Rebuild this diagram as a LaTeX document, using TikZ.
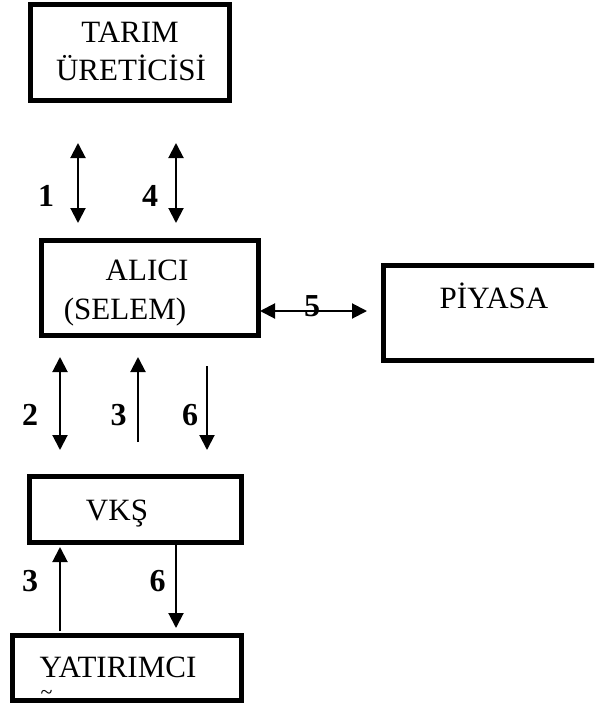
\documentclass[tikz,border=0pt]{standalone}
\usepackage{fontspec}
\setmainfont{Liberation Serif}
\usetikzlibrary{arrows.meta}
\tikzset{
  boxnode/.style={draw=black, line width=5pt, inner sep=0pt, fill=none},
  lbl/.style={inner sep=0pt, anchor=base, font=\fontsize{31}{37}\selectfont},
  num/.style={inner sep=0pt, anchor=base, font=\fontsize{32}{38}\selectfont\bfseries},
  conn/.style={line width=2pt, draw=black},
  onehead/.style={conn, -{Triangle[length=15pt,width=15pt]}},
  twohead/.style={conn, {Triangle[length=15pt,width=15pt]}-{Triangle[length=15pt,width=15pt]}}
}
\begin{document}
\begin{tikzpicture}[x=1pt,y=-1pt]
\useasboundingbox (0,0) rectangle (594,709);
\clip (0,0) rectangle (594,709);
\fill[white] (0,0) rectangle (594,709);
% boxes
\node[boxnode, minimum width=199pt, minimum height=96pt] (tarim) at (130,52.5) {};
\node[boxnode, minimum width=217pt, minimum height=95pt] (alici) at (150,288) {};
\node[boxnode, minimum width=230pt, minimum height=95pt] (piyasa) at (498.5,313) {};
\node[boxnode, minimum width=212pt, minimum height=66pt] (vks) at (135.5,509.5) {};
\node[boxnode, minimum width=229pt, minimum height=65pt] (yatirimci) at (127,668) {};
% texts
\node[lbl] (t1) at (130,43) {TARIM};
\node[lbl] (t2) at (131,80) {ÜRETİCİSİ};
\node[lbl] (t3) at (147,280) {ALICI};
\node[lbl] (t4) at (125,319) {(SELEM)};
\node[lbl] (t5) at (494,308) {PİYASA};
\node[lbl] (t6) at (117,520) {VKŞ};
\node[lbl] (t7) at (118,677) {YATIRIMCI};
\node[inner sep=0pt, anchor=base, font=\fontsize{22}{24}\selectfont] (t8) at (46.5,699) {\textasciitilde};
% numbers
\node[num] (n1) at (46,206) {1};
\node[num] (n4) at (150,206) {4};
\node[num] (n5) at (312,316) {5};
\node[num] (n2) at (30,425) {2};
\node[num] (n3a) at (118.5,425) {3};
\node[num] (n6a) at (190,425) {6};
\node[num] (n3b) at (30,591) {3};
\node[num] (n6b) at (157.5,591) {6};
% arrow end points
\coordinate (a1t) at (78,143);
\coordinate (a1b) at (78,223);
\coordinate (a4t) at (176,143);
\coordinate (a4b) at (176,223);
\coordinate (a5l) at (260,311);
\coordinate (a5r) at (367,311);
\coordinate (a2t) at (60,357);
\coordinate (a2b) at (60,450);
\coordinate (a3t) at (138,357);
\coordinate (a3b) at (138,442);
\coordinate (a6t) at (207,366);
\coordinate (a6b) at (207,450);
\coordinate (b3t) at (60,547);
\coordinate (b3b) at (60,631);
\coordinate (b6t) at (176,544);
\coordinate (b6b) at (176,628);
% connectors
\draw[twohead] (a1t) -- (a1b);
\draw[twohead] (a4t) -- (a4b);
\draw[twohead] (a5l) -- (a5r);
\draw[twohead] (a2t) -- (a2b);
\draw[onehead] (a3b) -- (a3t);
\draw[onehead] (a6t) -- (a6b);
\draw[onehead] (b3b) -- (b3t);
\draw[onehead] (b6t) -- (b6b);
\end{tikzpicture}
\end{document}
